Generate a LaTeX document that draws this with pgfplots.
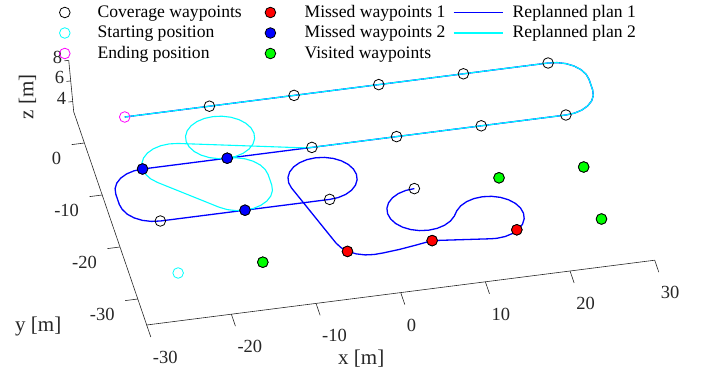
\documentclass[border=0pt]{standalone}
\usepackage{pgfplots}
\pgfplotsset{compat=1.18}
\usepackage{fontspec}
\setmainfont{Liberation Serif}
\definecolor{axgray}{RGB}{38,38,38}
\definecolor{mcyan}{RGB}{0,255,255}
\definecolor{mmag}{RGB}{255,0,255}
\definecolor{mblue}{RGB}{0,0,255}
\definecolor{mred}{RGB}{255,0,0}
\definecolor{mgreen}{RGB}{0,255,0}
\newcommand{\tickfont}{\fontsize{18.5bp}{20bp}\selectfont}
\newcommand{\labfont}{\fontsize{21bp}{24bp}\selectfont}
\newcommand{\legfont}{\fontsize{17.6bp}{20bp}\selectfont}
\pgfplotsset{
  mk/.style={only marks, mark size=5.3bp, mark options={line width=0.8bp},
    legend image code/.code={\path (0bp,0bp) (17bp,0bp); \draw[##1] plot coordinates {(8.5bp,0bp)};}},
  lg/.style={legend image code/.code={\draw[##1] (0bp,0bp) -- (49.5bp,0bp);}},
  legax/.style={at={(BL)}, anchor=south west, scale only axis,
    width=706bp, height=377bp, hide axis, xmin=0, xmax=1, ymin=0, ymax=1,
    legend cell align=left},
  legsty/.style={legend style={anchor=north west, draw=none, fill=none, inner sep=0pt,
    row sep=4.5bp, font=\legfont, text=black,
    nodes={inner sep=0pt, text height=13bp, text depth=3bp}}},
}
\begin{document}
\begin{tikzpicture}
\begin{axis}[
  x={(8.467bp,1.08bp)}, y={(-1.78bp,5.2bp)}, z={(-1.0bp,10.3bp)},
  xmin=-30, xmax=30, ymin=-35, ymax=6, zmin=3, zmax=8,
  hide axis, clip=false,
]
% coverage waypoints
\addplot3[only marks, mark=o, black, mark size=5.3bp, mark options={line width=0.8bp}] coordinates {
(-15,0,5) (-5,0,5) (5,0,5) (15,0,5) (25,0,5)
(-25,-10,5) (-15,-10,5) (-5,-10,5) (5,-10,5) (15,-10,5) (25,-10,5)
(-25,-20,5) (-15,-20,5) (-5,-20,5) (5,-20,5) (15,-20,5) (25,-20,5)
(-15,-30,5) (-5,-30,5) (5,-30,5) (15,-30,5) (25,-30,5)};
% starting / ending position
\addplot3[only marks, mark=o, mcyan, mark size=5.3bp, mark options={line width=0.8bp}] coordinates {(-25,-30,5)};
\addplot3[only marks, mark=o, mmag, mark size=5.3bp, mark options={line width=0.8bp}] coordinates {(-25,0,5)};
% missed 1
\addplot3[only marks, mark=*, mark size=5.3bp, mark options={draw=black, fill=mred, line width=0.8bp}] coordinates {(-5,-30,5) (5,-30,5) (15,-30,5)};
% missed 2
\addplot3[only marks, mark=*, mark size=5.3bp, mark options={draw=black, fill=mblue, line width=0.8bp}] coordinates {(-25,-10,5) (-15,-10,5) (-15,-20,5)};
% visited
\addplot3[only marks, mark=*, mark size=5.3bp, mark options={draw=black, fill=mgreen, line width=0.8bp}] coordinates {(-15,-30,5) (25,-30,5) (15,-20,5) (25,-20,5)};
% replanned plan 1
\addplot3[mblue, line width=1.3bp, no marks] coordinates {
(5,-20,5) (3.965,-20.136,5) (3,-20.536,5) (2.172,-21.172,5) (1.536,-22,5) (1.136,-22.965,5) (1,-24,5) (1.136,-25.035,5) (1.536,-26,5) (2.172,-26.828,5) (3,-27.464,5) (3.965,-27.864,5) (5,-28,5) (6.035,-27.864,5) (7,-27.464,5) (7.828,-26.828,5) (8.464,-26,5) (8.7,-25.55,5)
(8.936,-25.1,5) (9.572,-24.272,5) (10.4,-23.636,5) (11.365,-23.236,5) (12.4,-23.1,5) (13.435,-23.236,5) (14.4,-23.636,5) (15.228,-24.272,5) (15.864,-25.1,5) (16.264,-26.065,5) (16.4,-27.1,5) (16.264,-28.135,5) (15.864,-29.1,5) (15.228,-29.928,5) (14.4,-30.564,5) (13.435,-30.964,5) (12.4,-31.1,5) (11.705,-31.039,5)
(5,-30,5) (3,-30.45,5) (1,-30.85,5) (-1,-31.12,5) (-2.1,-31.2,5)
(-3.135,-31.064,5) (-4.1,-30.664,5) (-4.928,-30.028,5) (-5.564,-29.2,5) (-5.972,-28.202,5)
(-8.873,-17.002,5) (-9,-16,5) (-8.864,-14.965,5) (-8.464,-14,5) (-7.828,-13.172,5) (-7,-12.536,5) (-6.035,-12.136,5) (-5,-12,5) (-3.965,-12.136,5) (-3,-12.536,5) (-2.172,-13.172,5) (-1.536,-14,5) (-1.136,-14.965,5) (-1,-16,5) (-1.136,-17.035,5) (-1.536,-18,5) (-2.172,-18.828,5) (-3,-19.464,5) (-3.965,-19.864,5) (-5,-20,5)
(-25,-20,5) (-26.035,-19.864,5) (-27,-19.464,5) (-27.828,-18.828,5) (-28.464,-18,5) (-28.864,-16.965,5) (-29,-16,5) (-29,-14,5) (-28.864,-12.965,5) (-28.464,-12,5) (-27.828,-11.172,5) (-27,-10.536,5) (-26.035,-10.136,5) (-25,-10,5)
(25,-10,5) (26.035,-9.864,5) (27,-9.464,5) (27.828,-8.828,5) (28.464,-8,5) (28.864,-7.035,5) (29,-6,5) (29,-4,5) (28.864,-2.965,5) (28.464,-2,5) (27.828,-1.172,5) (27,-0.536,5) (26.035,-0.136,5) (25,0,5) (-25,0,5)};
% replanned plan 2
\addplot3[mcyan, line width=1.1bp, no marks] coordinates {
(-15,-10,5) (-13.965,-9.864,5) (-13,-9.464,5) (-12.172,-8.828,5) (-11.536,-8,5) (-11.136,-7.035,5) (-11,-6,5) (-11.136,-4.965,5) (-11.536,-4,5) (-12.172,-3.172,5) (-13,-2.536,5) (-13.965,-2.136,5) (-15,-2,5) (-16.035,-2.136,5) (-17,-2.536,5) (-17.828,-3.172,5) (-18.464,-4,5) (-18.864,-4.965,5) (-19,-6,5) (-18.864,-7.035,5) (-18.464,-8,5) (-17.828,-8.828,5) (-17,-9.464,5) (-16.035,-9.864,5) (-15,-10,5)
(-13.965,-10.136,5) (-13,-10.536,5) (-12.172,-11.172,5) (-11.536,-12,5) (-11.136,-12.965,5) (-11,-14,5) (-11,-16,5) (-11.136,-17.035,5) (-11.536,-18,5) (-12.172,-18.828,5) (-13,-19.464,5) (-13.965,-19.864,5) (-15,-20,5) (-16.035,-19.864,5) (-17,-19.464,5) (-17.828,-18.828,5)
(-23.828,-12.828,5) (-24.464,-12,5) (-24.864,-11.035,5) (-25,-10,5) (-24.864,-8.965,5) (-24.464,-8,5) (-23.828,-7.172,5) (-23,-6.536,5) (-22.035,-6.136,5) (-21,-6,5) (-19.965,-6.136,5)
(-6.035,-9.864,5) (-5,-10,5)
(25,-10,5) (26.035,-9.864,5) (27,-9.464,5) (27.828,-8.828,5) (28.464,-8,5) (28.864,-7.035,5) (29,-6,5) (29,-4,5) (28.864,-2.965,5) (28.464,-2,5) (27.828,-1.172,5) (27,-0.536,5) (26.035,-0.136,5) (25,0,5) (-25,0,5)};
\coordinate (C0) at (axis cs:-30,-35,3);
% axis lines
\draw[axgray, line width=0.6bp] (axis cs:30,-35,3) -- (axis cs:-30,-35,3) -- (axis cs:-30,6,3) -- (axis cs:-30,6,8);
\pgfplotsinvokeforeach{-30,-20,-10,0,10,20,30}{
  \draw[axgray, line width=0.6bp] (axis cs:#1,-35,3) -- (axis cs:#1,-37.3,3);
  \node[anchor=base west, inner sep=0pt, xshift=6bp, yshift=-38.5bp, font=\tickfont, text=axgray] at (axis cs:#1,-35,3) {#1};
}
\pgfplotsinvokeforeach{0,-10,-20,-30}{
  \draw[axgray, line width=0.6bp] (axis cs:-30,#1,3) -- (axis cs:-31.5,#1,3);
  \node[anchor=base east, inner sep=0pt, xshift=-23bp, yshift=-21.5bp, font=\tickfont, text=axgray] at (axis cs:-30,#1,3) {#1};
}
\pgfplotsinvokeforeach{4,6,8}{
  \draw[axgray, line width=0.6bp] (axis cs:-30,6,#1) -- (axis cs:-30.5,6,#1);
  \node[anchor=base east, inner sep=0pt, xshift=-6.5bp, yshift=-3bp, font=\tickfont, text=axgray] at (axis cs:-30,6,#1) {#1};
}
\node[anchor=base west, inner sep=0pt, xshift=191.3bp, yshift=-39.5bp, font=\labfont, text=axgray] at (axis cs:-30,-35,3) {x [m]};
\node[anchor=base west, inner sep=0pt, xshift=-131.7bp, yshift=-6bp, font=\labfont, text=axgray] at (axis cs:-30,-35,3) {y [m]};
\node[anchor=center, inner sep=0pt, rotate=90, xshift=228.3bp, yshift=119.2bp, font=\labfont, text=axgray] at (axis cs:-30,-35,3) {z [m]};
\end{axis}
\path ([shift={(-146.7bp,-52bp)}]C0) coordinate (BL);
\path ([shift={(559.3bp,325bp)}]C0) coordinate (TR);
% legend column 1
\begin{axis}[legax, legsty, legend style={at={(0.07918,0.98859)}, column sep=24.1bp}]
\addlegendimage{mk, mark=o, black}
\addlegendentry{Coverage waypoints}
\addlegendimage{mk, mark=o, mcyan}
\addlegendentry{Starting position}
\addlegendimage{mk, mark=o, mmag}
\addlegendentry{Ending position}
\end{axis}
% legend column 2
\begin{axis}[legax, legsty, legend style={at={(0.37040,0.98859)}, column sep=25.5bp}]
\addlegendimage{mk, mark=*, mark options={draw=black, fill=mred, line width=0.8bp}}
\addlegendentry{Missed waypoints 1}
\addlegendimage{mk, mark=*, mark options={draw=black, fill=mblue, line width=0.8bp}}
\addlegendentry{Missed waypoints 2}
\addlegendimage{mk, mark=*, mark options={draw=black, fill=mgreen, line width=0.8bp}}
\addlegendentry{Visited waypoints}
\end{axis}
% legend column 3
\begin{axis}[legax, legsty, legend style={at={(0.64122,0.98859)}, column sep=9bp}]
\addlegendimage{lg, mblue, line width=1.3bp}
\addlegendentry{Replanned plan 1}
\addlegendimage{lg, mcyan, line width=1.3bp}
\addlegendentry{Replanned plan 2}
\end{axis}
\pgfresetboundingbox
\path[use as bounding box] (BL) rectangle (TR);
\end{tikzpicture}
\end{document}
